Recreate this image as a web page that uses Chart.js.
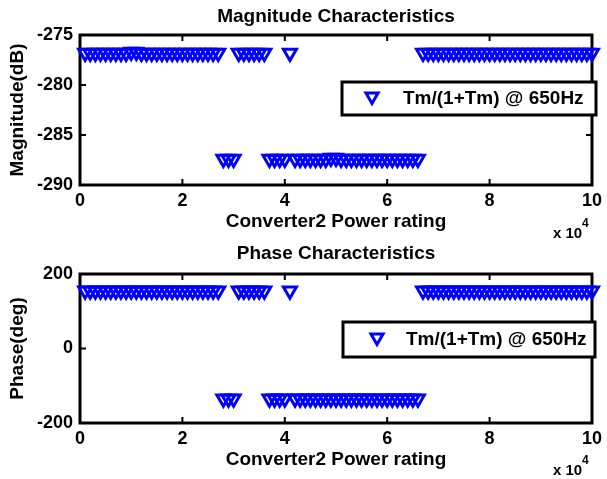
<!DOCTYPE html>
<html>
<head>
<meta charset="utf-8">
<script src="https://cdn.jsdelivr.net/npm/chart.js@4.4.0/dist/chart.umd.min.js"></script>
<style>
  body { margin: 0; background: #fff; }
  #wrap { position: relative; width: 607px; height: 479px; }
  canvas { position: absolute; left: 0; top: 0; }
</style>
</head>
<body>
<div id="wrap">
  <canvas id="magChart" width="607" height="479"></canvas>
  <canvas id="phaseChart" width="607" height="479"></canvas>
</div>
<script>
// Converter2 power rating, in units of 10^4
const powerRating = [
  0.1, 0.2, 0.3, 0.4, 0.5, 0.6, 0.7, 0.8, 0.9, 1.0,
  1.1, 1.2, 1.3, 1.4, 1.5, 1.6, 1.7, 1.8, 1.9, 2.0,
  2.1, 2.2, 2.3, 2.4, 2.5, 2.6, 2.7, 2.8, 2.9, 3.0,
  3.1, 3.2, 3.3, 3.4, 3.5, 3.6, 3.7, 3.8, 3.9, 4.0,
  4.1, 4.2, 4.3, 4.4, 4.5, 4.6, 4.7, 4.8, 4.9, 5.0,
  5.1, 5.2, 5.3, 5.4, 5.5, 5.6, 5.7, 5.8, 5.9, 6.0,
  6.1, 6.2, 6.3, 6.4, 6.5, 6.6, 6.7, 6.8, 6.9, 7.0,
  7.1, 7.2, 7.3, 7.4, 7.5, 7.6, 7.7, 7.8, 7.9, 8.0,
  8.1, 8.2, 8.3, 8.4, 8.5, 8.6, 8.7, 8.8, 8.9, 9.0,
  9.1, 9.2, 9.3, 9.4, 9.5, 9.6, 9.7, 9.8, 9.9, 10.0
];
const magnitudeDb = [
  -276.8, -276.8, -276.8, -276.8, -276.8, -276.8, -276.8, -276.8, -276.8, -276.7,
  -276.7, -276.8, -276.8, -276.8, -276.8, -276.8, -276.8, -276.8, -276.8, -276.8,
  -276.8, -276.8, -276.8, -276.8, -276.8, -276.8, -276.8, -287.4, -287.4, -287.4,
  -276.8, -276.8, -276.8, -276.8, -276.8, -276.8, -287.4, -287.4, -287.4, -287.4,
  -276.8, -287.4, -287.4, -287.4, -287.4, -287.4, -287.4, -287.4, -287.3, -287.3,
  -287.4, -287.4, -287.4, -287.4, -287.4, -287.4, -287.4, -287.4, -287.4, -287.4,
  -287.4, -287.4, -287.4, -287.4, -287.4, -287.4, -276.8, -276.8, -276.8, -276.8,
  -276.8, -276.8, -276.8, -276.8, -276.8, -276.8, -276.8, -276.8, -276.8, -276.8,
  -276.8, -276.8, -276.8, -276.8, -276.8, -276.8, -276.8, -276.8, -276.8, -276.8,
  -276.8, -276.8, -276.8, -276.8, -276.8, -276.8, -276.8, -276.8, -276.8, -276.8
];
const phaseDeg = [
  155, 155, 155, 155, 155, 155, 155, 155, 155, 155,
  155, 155, 155, 155, 155, 155, 155, 155, 155, 155,
  155, 155, 155, 155, 155, 155, 155, -135, -135, -135,
  155, 155, 155, 155, 155, 155, -135, -135, -135, -135,
  155, -135, -135, -135, -135, -135, -135, -135, -135, -135,
  -135, -135, -135, -135, -135, -135, -135, -135, -135, -135,
  -135, -135, -135, -135, -135, -135, 155, 155, 155, 155,
  155, 155, 155, 155, 155, 155, 155, 155, 155, 155,
  155, 155, 155, 155, 155, 155, 155, 155, 155, 155,
  155, 155, 155, 155, 155, 155, 155, 155, 155, 155
];
const xTicks = [0, 2, 4, 6, 8, 10];
const magTicks = [-290, -285, -280, -275];
const phaseTicks = [-200, 0, 200];
const legendLabel = 'Tm/(1+Tm) @ 650Hz';

Chart.defaults.font.family = '"Liberation Sans", Arial, sans-serif';
Chart.defaults.font.weight = 'bold';
Chart.defaults.font.size = 18;
Chart.defaults.color = '#000';

function downTriangle(ctx, x, y, r) {
  ctx.beginPath();
  ctx.moveTo(x, y + r);
  ctx.lineTo(x - r * 0.866, y - r / 2);
  ctx.lineTo(x + r * 0.866, y - r / 2);
  ctx.closePath();
  ctx.stroke();
}

// matlab style box, inward ticks, legend and the x10^4 exponent
const framePlugin = {
  id: 'frame',
  beforeDatasetsDraw(chart) {
    const { ctx, chartArea: a, scales: { x, y } } = chart;
    ctx.save();
    ctx.strokeStyle = '#000';
    ctx.lineWidth = 2;
    ctx.beginPath();
    x.ticks.forEach(t => {
      const px = x.getPixelForValue(t.value);
      ctx.moveTo(px, a.bottom); ctx.lineTo(px, a.bottom - 6);
      ctx.moveTo(px, a.top); ctx.lineTo(px, a.top + 6);
    });
    y.ticks.forEach(t => {
      const py = y.getPixelForValue(t.value);
      ctx.moveTo(a.left, py); ctx.lineTo(a.left + 6, py);
      ctx.moveTo(a.right, py); ctx.lineTo(a.right - 6, py);
    });
    ctx.stroke();
    ctx.lineWidth = 3;
    ctx.strokeRect(a.left, a.top, a.right - a.left, a.bottom - a.top);
    ctx.restore();
  },
  afterDraw(chart, args, opts) {
    const ctx = chart.ctx;
    const [bx, by, bw, bh] = opts.box;
    ctx.save();
    ctx.fillStyle = '#fff';
    ctx.fillRect(bx, by, bw, bh);
    ctx.strokeStyle = '#000';
    ctx.lineWidth = 3;
    ctx.strokeRect(bx, by, bw, bh);
    ctx.strokeStyle = '#0000ff';
    ctx.lineWidth = 3;
    downTriangle(ctx, opts.markerX, by + bh / 2 - 2, 7);
    ctx.fillStyle = '#000';
    ctx.font = 'bold 19px "Liberation Sans", Arial, sans-serif';
    ctx.textBaseline = 'middle';
    ctx.textAlign = 'left';
    ctx.fillText(legendLabel, opts.textX, by + bh / 2);
    ctx.font = 'bold 15px "Liberation Sans", Arial, sans-serif';
    ctx.fillText('x 10', 553, opts.expY);
    ctx.font = 'bold 12px "Liberation Sans", Arial, sans-serif';
    ctx.fillText('4', 582, opts.expY - 10);
    ctx.restore();
  }
};

function buildChart(id, values, cfg) {
  return new Chart(document.getElementById(id), {
    type: 'scatter',
    data: {
      datasets: [{
        label: legendLabel,
        data: powerRating.map((x, i) => ({ x: x, y: values[i] })),
        pointStyle: 'triangle',
        rotation: 180,
        pointRadius: 7.5,
        pointHoverRadius: 7.5,
        borderColor: '#0000ff',
        backgroundColor: 'rgba(0,0,0,0)',
        borderWidth: 3,
        showLine: false,
        clip: false
      }]
    },
    options: {
      responsive: false,
      animation: false,
      devicePixelRatio: 1,
      events: [],
      layout: { padding: cfg.padding },
      plugins: {
        legend: { display: false },
        tooltip: { enabled: false },
        title: {
          display: true,
          fullSize: false,
          text: cfg.title,
          font: { size: 19, weight: 'bold' },
          padding: cfg.titlePadding
        },
        frame: cfg.frame
      },
      scales: {
        x: {
          type: 'linear',
          min: 0,
          max: 10,
          afterBuildTicks: s => { s.ticks = xTicks.map(v => ({ value: v })); },
          afterFit: s => { s.height = cfg.xHeight; },
          grid: { display: false, drawTicks: false },
          border: { display: false },
          ticks: { padding: 5 },
          title: {
            display: true,
            text: 'Converter2 Power rating',
            font: { size: 19, weight: 'bold' },
            padding: { top: 0, bottom: cfg.xTitlePad }
          }
        },
        y: {
          min: cfg.yMin,
          max: cfg.yMax,
          afterBuildTicks: s => { s.ticks = cfg.yTicks.map(v => ({ value: v })); },
          afterFit: s => { s.width = 80; },
          grid: { display: false, drawTicks: false },
          border: { display: false },
          ticks: { padding: 7 },
          title: {
            display: true,
            text: cfg.yTitle,
            font: { size: 19, weight: 'bold' },
            padding: { top: 6.1, bottom: 0 }
          }
        }
      }
    },
    plugins: [framePlugin]
  });
}

buildChart('magChart', magnitudeDb, {
  title: 'Magnitude Characteristics',
  yTitle: 'Magnitude(dB)',
  yMin: -290, yMax: -275, yTicks: magTicks,
  padding: { left: 0, right: 12, top: 0, bottom: 239 },
  titlePadding: { top: 5.1, bottom: 7.1 },
  xHeight: 55, xTitlePad: 6.6,
  frame: { box: [342, 82, 254, 33], markerX: 372, textX: 403, expY: 234 }
});

buildChart('phaseChart', phaseDeg, {
  title: 'Phase Characteristics',
  yTitle: 'Phase(deg)',
  yMin: -200, yMax: 200, yTicks: phaseTicks,
  padding: { left: 0, right: 12, top: 240, bottom: 0 },
  titlePadding: { top: 2.6, bottom: 8.6 },
  xHeight: 56, xTitlePad: 7.6,
  frame: { box: [343, 322, 252, 35], markerX: 377, textX: 406, expY: 471 }
});
</script>
</body>
</html>
